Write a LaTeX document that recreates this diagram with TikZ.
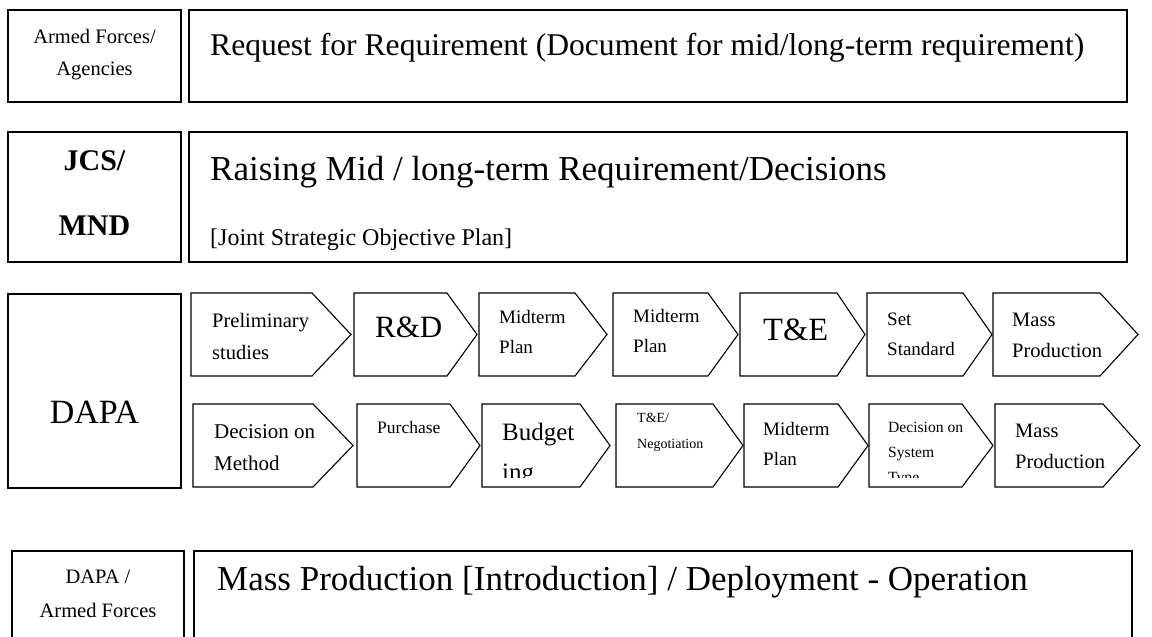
\documentclass[tikz,border=0pt]{standalone}
\usepackage{fontspec}
\setmainfont{Liberation Serif}
\begin{document}
\begin{tikzpicture}[x=1pt,y=-1pt,
  box/.style={draw,line width=1.6pt,inner sep=0pt},
  chev/.style={draw,line width=1.1pt,line join=miter},
  txt/.style={anchor=base west,inner sep=0pt,align=left},
  ctxt/.style={anchor=base,inner sep=0pt,align=center},
  fs/.style 2 args={font=\fontsize{#1}{#2}\selectfont}]

\useasboundingbox (0,0) rectangle (1152,637);

% row 1
\node[box,minimum width=173pt,minimum height=92pt] (armed) at (94.5,56) {};
\node[box,minimum width=938pt,minimum height=92pt] (req) at (658,56) {};
\node[ctxt,fs={20.5}{32}] (armedt) at (94.5,75) {Armed Forces/\\Agencies};
\node[txt,fs={31.6}{38}] (reqt) at (210,55) {Request for Requirement (Document for mid/long-term requirement)};

% row 2
\node[box,minimum width=173pt,minimum height=130pt] (jcs) at (94.5,197) {};
\node[box,minimum width=938pt,minimum height=130pt] (raise) at (658,197) {};
\node[ctxt,fs={30}{65}] (jcst) at (94.5,235) {\bfseries JCS/\\\bfseries MND};
\node[txt,fs={35}{42}] (raiset) at (210,180) {Raising Mid / long-term Requirement/Decisions};
\begin{scope}
\clip (189,132) rectangle (1127,250);
\node[txt,fs={24}{29}] (jsop) at (210,245) {[Joint Strategic Objective Plan]};
\end{scope}

% row 3
\node[box,line width=1.3pt,minimum width=173pt,minimum height=194pt] (dapa) at (94.5,391) {};
\node[ctxt,fs={34}{40}] (dapat) at (94.5,423) {DAPA};

\draw[chev] (191,293) -- (312,293) -- (351,334.5) -- (312,376) -- (191,376) -- cycle;
\draw[chev] (354,293) -- (447,293) -- (477,334.5) -- (447,376) -- (354,376) -- cycle;
\draw[chev] (479,293) -- (575,293) -- (607,334.5) -- (575,376) -- (479,376) -- cycle;
\draw[chev] (613,293) -- (708,293) -- (738,334.5) -- (708,376) -- (613,376) -- cycle;
\draw[chev] (740,293) -- (837,293) -- (865,334.5) -- (837,376) -- (740,376) -- cycle;
\draw[chev] (867,293) -- (963,293) -- (992,334.5) -- (963,376) -- (867,376) -- cycle;
\draw[chev] (993,293) -- (1100,293) -- (1138,334.5) -- (1100,376) -- (993,376) -- cycle;

\node[txt,fs={20.5}{32}] (prelim) at (212,359) {Preliminary\\studies};
\node[txt,fs={31}{37}] (rnd) at (375,337) {R\&D};
\node[txt,fs={19}{30}] (plan1) at (499,353) {Midterm\\Plan};
\node[txt,fs={19}{30}] (plan2) at (633,352) {Midterm\\Plan};
\node[txt,fs={32.5}{39}] (tne) at (763,340) {T\&E};
\node[txt,fs={19}{30}] (std) at (887,355) {Set\\Standard};
\node[txt,fs={20.5}{31}] (mass1) at (1012,357) {Mass\\Production};

\draw[chev] (193,404) -- (313,404) -- (353,445.5) -- (313,487) -- (193,487) -- cycle;
\draw[chev] (357,404) -- (450,404) -- (480,445.5) -- (450,487) -- (357,487) -- cycle;
\draw[chev] (482,404) -- (580,404) -- (610,445.5) -- (580,487) -- (482,487) -- cycle;
\draw[chev] (616,404) -- (713,404) -- (743,445.5) -- (713,487) -- (616,487) -- cycle;
\draw[chev] (744,404) -- (838,404) -- (868,445.5) -- (838,487) -- (744,487) -- cycle;
\draw[chev] (869,404) -- (962,404) -- (993,445.5) -- (962,487) -- (869,487) -- cycle;
\draw[chev] (995,404) -- (1103,404) -- (1140,445.5) -- (1103,487) -- (995,487) -- cycle;

\node[txt,fs={21}{32}] (method) at (214,470) {Decision on\\Method};
\node[txt,fs={17.5}{21}] (buy) at (377,433) {Purchase};
\node[txt,fs={14}{26}] (nego) at (637,448) {T\&E/\\Negotiation};
\node[txt,fs={19}{30}] (plan3) at (763,465) {Midterm\\Plan};
\node[txt,fs={20.5}{31}] (mass2) at (1015,468) {Mass\\Production};
\begin{scope}
\clip (482,404) rectangle (1140,477);
\node[txt,fs={25}{40}] (budget) at (502,480) {Budget\\ing};
\node[txt,fs={15.6}{25}] (systype) at (888,482) {Decision on\\System\\Type};
\end{scope}

% row 4
\node[box,minimum width=172pt,minimum height=109pt] (dapaaf) at (98,605.5) {};
\node[box,minimum width=938pt,minimum height=109pt] (mass) at (663,605.5) {};
\node[ctxt,fs={20.5}{34}] (dapaaft) at (98,617) {DAPA /\\Armed Forces};
\node[txt,fs={35}{42}] (masst) at (217,590) {Mass Production [Introduction] / Deployment - Operation};

\end{tikzpicture}
\end{document}
